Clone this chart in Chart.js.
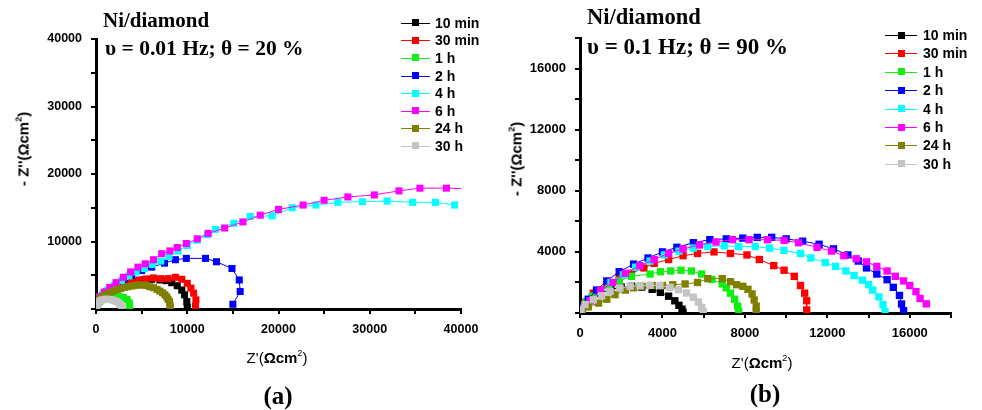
<!DOCTYPE html>
<html>
<head>
<meta charset="utf-8">
<script src="https://cdn.jsdelivr.net/npm/chart.js@4.4.1/dist/chart.umd.min.js"></script>
<style>
  body { margin: 0; background: #fff; width: 982px; height: 410px; overflow: hidden; position: relative;
         font-family: "Liberation Sans", Arial, sans-serif; }
  canvas { position: absolute; top: 0; }
  .t { position: absolute; white-space: nowrap; color: #000; }
  .serif { font-family: "Liberation Serif", "Times New Roman", serif; font-weight: bold; }
  .ax { font-size: 15px; line-height: 15px; }
  .ax b { font-weight: bold; }
  .ax sup { font-size: 9px; vertical-align: 7px; line-height: 0; }
  .row { position: absolute; height: 14px; }
  .row .ln { position: absolute; top: 7px; height: 1px; }
  .row .sq { position: absolute; top: 3.5px; width: 7px; height: 7px; }
  .row .lb { position: absolute; top: 0; font-weight: bold; font-size: 14px; line-height: 14px; white-space: nowrap; }
</style>
</head>
<body>
<canvas id="chartA" width="490" height="410" style="left:0"></canvas>
<canvas id="chartB" width="492" height="410" style="left:490px"></canvas>

<div class="t serif" style="left:103px;top:10px;font-size:21px;line-height:21px">Ni/diamond</div>
<div class="t serif" style="left:105px;top:38px;font-size:21.5px;line-height:21.5px">υ = 0.01 Hz; θ = 20 %</div>
<div class="t serif" style="left:587px;top:6px;font-size:22.5px;line-height:22.5px">Ni/diamond</div>
<div class="t serif" style="left:587px;top:35px;font-size:23px;line-height:23px">υ = 0.1 Hz; θ = 90 %</div>

<div class="t ax" style="left:277px;top:350px;transform:translateX(-50%)">Z'(<b>Ω</b><b>cm</b><sup>2</sup>)</div>
<div class="t ax" style="left:762px;top:355px;transform:translateX(-50%)">Z'(<b>Ω</b><b>cm</b><sup>2</sup>)</div>
<div class="t ax" style="left:23px;top:149px;transform:translate(-50%,-50%) rotate(-90deg)"><b>- Z''(Ωcm<sup>2</sup>)</b></div>
<div class="t ax" style="left:516px;top:159px;transform:translate(-50%,-50%) rotate(-90deg)"><b>- Z''(Ωcm<sup>2</sup>)</b></div>

<div class="t serif" style="left:278px;top:383px;font-size:25px;line-height:25px;transform:translateX(-50%)">(a)</div>
<div class="t serif" style="left:765px;top:381px;font-size:25px;line-height:25px;transform:translateX(-50%)">(b)</div>

<div id="legA"></div>
<div id="legB"></div>

<script>
// series names and colours (same for both panels)
const seriesLabels = ['10 min', '30 min', '1 h', '2 h', '4 h', '6 h', '24 h', '30 h'];
const seriesColors = ['#000000', '#ff0000', '#11ee11', '#0000ff', '#00ffff', '#ff00ff', '#808000', '#c4c4c4'];

// ---- panel (a): v = 0.01 Hz, theta = 20 %  (Z' , -Z'' in ohm cm2)
const a10minX = [200, 500, 1000, 1600, 2300, 3000, 3700, 4400, 5200, 6100, 7000, 7700, 8300, 8900, 9400, 9700, 9950, 10000];
const a10minY = [900, 1500, 2100, 2600, 3000, 3400, 3800, 4100, 4300, 4400, 4300, 4200, 3900, 3450, 2800, 2100, 1100, 250];
const a30minX = [300, 800, 1500, 2300, 3100, 3900, 4700, 5500, 6300, 7100, 7900, 8700, 9400, 10000, 10400, 10700, 10950, 10900];
const a30minY = [1200, 1900, 2600, 3100, 3600, 4000, 4300, 4450, 4600, 4500, 4500, 4700, 4400, 3800, 3100, 2350, 1350, 450];
const a1hX = [100, 400, 800, 1300, 1900, 2500, 3000, 3400, 3650, 3700];
const a1hY = [600, 1100, 1450, 1700, 1850, 1850, 1700, 1400, 900, 300];
const a2hX = [300, 1200, 2100, 3000, 3900, 5000, 6100, 7500, 8700, 9900, 12000, 13200, 14900, 15700, 15800, 15000];
const a2hY = [1800, 2600, 3400, 4300, 5000, 5700, 6200, 6800, 7300, 7500, 7500, 7000, 6000, 4300, 2600, 700];
const a4hX = [200, 700, 1300, 2000, 2800, 3600, 4400, 5300, 6200, 7100, 8000, 9000, 10000, 11100, 12200, 13100, 15100, 16900, 19300, 21500, 24100, 26500, 29200, 31900, 34700, 37200, 39300];
const a4hY = [1300, 2100, 2800, 3500, 4200, 4900, 5500, 6000, 6600, 7100, 7800, 8600, 9400, 10200, 11000, 11800, 12700, 13700, 13800, 15000, 15400, 15800, 15900, 16000, 15800, 15800, 15400];
const a6hX = [300, 900, 1500, 2200, 3000, 3800, 4600, 5400, 6300, 7200, 8100, 8900, 9900, 11100, 12300, 14100, 16100, 18000, 20000, 22700, 25000, 27600, 30500, 33200, 35500, 38400, 41500];
const a6hY = [1800, 2500, 3200, 3900, 4700, 5500, 6200, 6700, 7300, 8200, 8600, 9100, 9700, 10400, 11200, 12000, 12900, 13900, 14750, 15400, 16100, 16600, 16900, 17500, 17900, 17900, 17800];
const a24hX = [100, 300, 500, 700, 900, 1200, 1500, 1900, 2300, 2700, 3100, 3500, 3900, 4300, 4700, 5100, 5500, 5900, 6300, 6700, 7000, 7300, 7550, 7750, 7900, 8050, 8100, 8150];
const a24hY = [1000, 1300, 1600, 1800, 1950, 2200, 2400, 2650, 2850, 3000, 3200, 3300, 3400, 3500, 3550, 3550, 3500, 3300, 3150, 2900, 2650, 2400, 2100, 1800, 1450, 1100, 650, 250];
const a30hX = [50, 150, 300, 500, 700, 1000, 1300, 1600, 1900, 2200, 2450, 2650, 2800, 2850];
const a30hY = [500, 800, 1050, 1250, 1350, 1450, 1450, 1400, 1300, 1150, 950, 700, 450, 150];

// ---- panel (b): v = 0.1 Hz, theta = 90 %
const b10minX = [100, 300, 600, 1000, 1500, 2000, 2500, 3000, 3500, 3900, 4300, 4600, 4800, 4950, 5000];
const b10minY = [300, 700, 1000, 1300, 1550, 1700, 1750, 1700, 1550, 1350, 1100, 800, 500, 250, 50];
const b30minX = [100, 300, 650, 1300, 1900, 2500, 3100, 3600, 4300, 5000, 5700, 6500, 7300, 8100, 8700, 9400, 9900, 10400, 10700, 10900, 11000, 11000];
const b30minY = [300, 700, 1300, 1850, 2250, 2600, 2950, 3250, 3500, 3750, 3900, 4000, 3900, 3800, 3500, 3100, 2800, 2400, 1800, 1300, 800, 200];
const b1hX = [100, 300, 600, 1000, 1400, 1900, 2500, 3400, 3900, 4400, 4900, 5400, 5900, 6400, 6900, 7100, 7300, 7500, 7650, 7700];
const b1hY = [300, 700, 1100, 1500, 1800, 2100, 2400, 2550, 2700, 2750, 2800, 2750, 2550, 2200, 1900, 1650, 1300, 900, 450, 100];
const b2hX = [100, 400, 800, 1300, 1900, 2600, 3300, 4000, 4700, 5500, 6300, 7100, 7900, 8600, 9300, 10000, 10800, 11600, 12300, 13000, 13500, 13900, 14400, 14900, 15200, 15500, 15600, 15700];
const b2hY = [400, 900, 1500, 2100, 2700, 3200, 3600, 4000, 4300, 4600, 4800, 4850, 4900, 4950, 4950, 4850, 4700, 4500, 4200, 3800, 3400, 2950, 2550, 2180, 1680, 1150, 590, 150];
const b4hX = [100, 500, 1000, 1500, 2100, 2700, 3400, 4100, 4800, 5500, 6200, 7000, 7700, 8500, 9200, 9900, 10700, 11200, 11900, 12400, 12900, 13300, 13700, 14000, 14200, 14500, 14700, 14800];
const b4hY = [300, 800, 1400, 2000, 2500, 3000, 3400, 3800, 4050, 4250, 4350, 4400, 4350, 4350, 4250, 4100, 3900, 3600, 3300, 3050, 2750, 2450, 2150, 1860, 1500, 1050, 550, 80];
const b6hX = [100, 500, 1000, 1600, 2200, 2900, 3600, 4300, 5000, 5800, 6600, 7400, 8200, 9100, 9900, 10600, 11500, 12200, 12800, 13400, 13900, 14400, 14900, 15300, 15700, 16000, 16300, 16500, 16800];
const b6hY = [300, 800, 1500, 2000, 2600, 3100, 3500, 3900, 4200, 4450, 4650, 4800, 4800, 4800, 4750, 4600, 4300, 4050, 3750, 3550, 3350, 3050, 2750, 2400, 2100, 1800, 1400, 950, 600];
const b24hX = [100, 400, 900, 1300, 1700, 2200, 2600, 3000, 3500, 4000, 4500, 5100, 5700, 6200, 6900, 7300, 7600, 7900, 8150, 8350, 8450, 8550, 8550];
const b24hY = [150, 400, 650, 900, 1200, 1500, 1650, 1750, 1800, 1800, 1850, 1900, 2000, 2250, 2250, 2050, 1850, 1750, 1550, 1250, 850, 450, 100];
const b30hX = [50, 240, 650, 1050, 1460, 1940, 2430, 2910, 3400, 3880, 4370, 4770, 5170, 5500, 5740, 5900, 5980];
const b30hY = [220, 550, 870, 1130, 1420, 1640, 1750, 1790, 1810, 1790, 1680, 1530, 1310, 1030, 720, 370, 100];

const panelA = [[a10minX, a10minY], [a30minX, a30minY], [a1hX, a1hY], [a2hX, a2hY],
                [a4hX, a4hY], [a6hX, a6hY], [a24hX, a24hY], [a30hX, a30hY]];
const panelB = [[b10minX, b10minY], [b30minX, b30minY], [b1hX, b1hY], [b2hX, b2hY],
                [b4hX, b4hY], [b6hX, b6hY], [b24hX, b24hY], [b30hX, b30hY]];

function toPoints(xs, ys) {
  return xs.map((x, i) => ({ x: x, y: ys[i] }));
}

function axisOpts(max, step, labelStep, showZero, fontSize, pad, fit) {
  return {
    type: 'linear', min: 0, max: max,
    border: { display: true, color: '#000', width: 3 },
    grid: { display: true, drawOnChartArea: false, drawTicks: true, tickLength: 5, color: '#000', lineWidth: 2 },
    ticks: {
      stepSize: step, autoSkip: false, maxRotation: 0, color: '#000', padding: pad,
      font: { family: '"Liberation Sans", Arial, sans-serif', weight: 'bold', size: fontSize },
      callback: v => (v % labelStep === 0 && (showZero || v !== 0)) ? String(v) : ''
    },
    afterFit: fit
  };
}

function buildChart(id, pairs, o) {
  return new Chart(document.getElementById(id), {
    type: 'scatter',
    data: {
      datasets: pairs.map((p, i) => ({
        label: seriesLabels[i],
        data: toPoints(p[0], p[1]),
        showLine: true,
        borderColor: seriesColors[i],
        backgroundColor: seriesColors[i],
        borderWidth: 1,
        pointStyle: 'rect',
        pointRadius: o.pr,
        pointBorderWidth: 0,
        order: seriesLabels.length - i
      }))
    },
    options: {
      responsive: false,
      animation: false,
      events: [],
      layout: { padding: o.pad },
      plugins: { legend: { display: false }, tooltip: { enabled: false } },
      scales: {
        x: axisOpts(o.xMax, o.xStep, o.xLab, true, o.fs, 8, s => { s.height = o.xH; }),
        y: axisOpts(o.yMax, o.yStep, o.yLab, false, o.fs, 9, s => { s.width = o.yW; })
      }
    }
  });
}

buildChart('chartA', panelA, {
  pr: 5, fs: 12.5,
  pad: { left: 0, top: 39, right: 29, bottom: 0 },
  xMax: 40000, xStep: 5000, xLab: 10000, xH: 101,
  yMax: 40000, yStep: 5000, yLab: 10000, yW: 96
});

buildChart('chartB', panelB, {
  pr: 5.2, fs: 13,
  pad: { left: 0, top: 38, right: 31, bottom: 0 },
  xMax: 18000, xStep: 2000, xLab: 4000, xH: 97,
  yMax: 18000, yStep: 2000, yLab: 4000, yW: 90
});

// legends drawn as html rows
function buildLegend(id, left, top0, gap, lineW, textOff) {
  const box = document.getElementById(id);
  seriesLabels.forEach((name, i) => {
    const row = document.createElement('div');
    row.className = 'row';
    row.style.left = left + 'px';
    row.style.top = (top0 + i * gap - 7) + 'px';
    row.innerHTML =
      '<div class="ln" style="left:0;width:' + lineW + 'px;background:' + seriesColors[i] + '"></div>' +
      '<div class="sq" style="left:' + (lineW / 2 - 3.5) + 'px;background:' + seriesColors[i] + '"></div>' +
      '<div class="lb" style="left:' + textOff + 'px">' + name + '</div>';
    box.appendChild(row);
  });
}
buildLegend('legA', 401, 22.7, 17.6, 29, 34);
buildLegend('legB', 885, 35, 18.4, 32, 38);
</script>
</body>
</html>
